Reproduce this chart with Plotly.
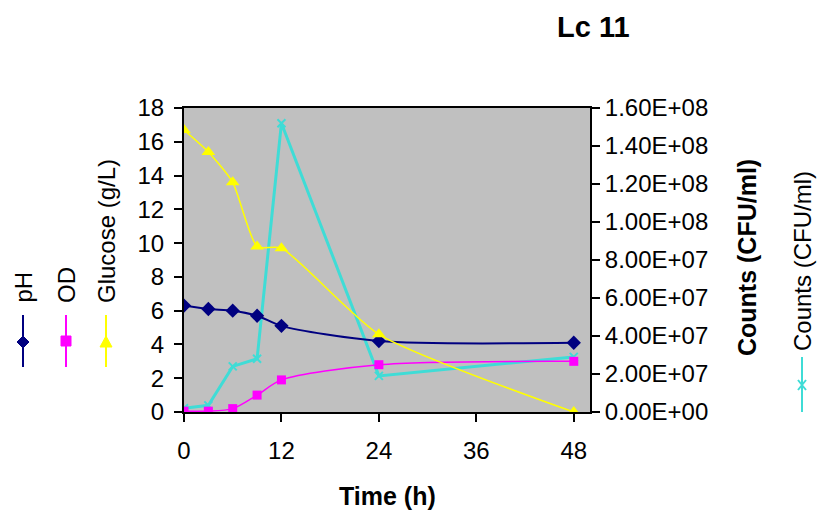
import plotly.graph_objects as go

# Sampling times (h)
time_h = [0, 3, 6, 9, 12, 24, 48]

# Measured series
ph = [6.3, 6.1, 6.0, 5.7, 5.1, 4.2, 4.1]
od = [0.05, 0.05, 0.2, 1.0, 1.9, 2.8, 3.0]
glucose = [16.7, 15.4, 13.6, 9.8, 9.7, 4.6, 0.0]
counts = [2.0e6, 3.5e6, 2.4e7, 2.8e7, 1.52e8, 1.9e7, 2.9e7]

# Axis ticks
x_ticks = [0, 12, 24, 36, 48]
left_ticks = [0, 2, 4, 6, 8, 10, 12, 14, 16, 18]
right_ticks = [0, 2e7, 4e7, 6e7, 8e7, 1e8, 1.2e8, 1.4e8, 1.6e8]
right_tick_text = ["0.00E+00", "2.00E+07", "4.00E+07", "6.00E+07", "8.00E+07",
                   "1.00E+08", "1.20E+08", "1.40E+08", "1.60E+08"]

NAVY = "#000080"
MAGENTA = "#FF00FF"
YELLOW = "#FFFF00"
CYAN = "#3FDCD6"
FONT = "Liberation Sans, Arial, sans-serif"

W, H = 819, 513
ML, MR, MT, MB = 184, 229, 108, 101
PW, PH_ = W - ML - MR, H - MT - MB


def px(x):
    return (x - ML) / PW


def py(y):
    return (H - MB - y) / PH_


fig = go.Figure()

# Counts sits on the primary (right-hand) axis so it is drawn underneath
fig.add_trace(go.Scatter(
    x=time_h, y=counts, name="Counts (CFU/ml)", yaxis="y",
    mode="lines+markers", line=dict(color=CYAN, width=3),
    marker=dict(symbol="x-thin-open", size=8, line=dict(color=CYAN, width=2)),
))
fig.add_trace(go.Scatter(
    x=time_h, y=ph, name="pH", yaxis="y2",
    mode="lines+markers", line=dict(color=NAVY, width=2, shape="spline", smoothing=0.8),
    marker=dict(symbol="diamond", size=11, color=NAVY),
))
fig.add_trace(go.Scatter(
    x=time_h, y=od, name="OD", yaxis="y2",
    mode="lines+markers", line=dict(color=MAGENTA, width=1.5, shape="spline", smoothing=0.8),
    marker=dict(symbol="square", size=9, color=MAGENTA),
))
fig.add_trace(go.Scatter(
    x=time_h, y=glucose, name="Glucose (g/L)", yaxis="y2",
    mode="lines+markers", line=dict(color=YELLOW, width=1.5, shape="spline", smoothing=0.6),
    marker=dict(symbol="triangle-up", size=12, color=YELLOW),
))

tick_font = dict(family=FONT, size=24, color="black")

# Legend: vertical entries with rotated labels
shapes = []
annotations = []
legend_items = [
    ("pH", NAVY, 23, 315, 367, 342, "M0,6 L6,0 L0,-6 L-6,0 Z", 305),
    ("OD", MAGENTA, 66, 315, 367, 341, "M-5,-5 H5 V5 H-5 Z", 305),
    ("Glucose (g/L)", YELLOW, 106, 315, 367, 342, "M-6,-5 L6,-5 L0,6 Z", 305),
    ("Counts (CFU/ml)", CYAN, 802, 357, 412, 385, "M-4,-5 L4,5 M-4,5 L4,-5", 353),
]
for label, color, lx, y0, y1, my, path, text_bottom in legend_items:
    shapes.append(dict(type="line", xref="paper", yref="paper",
                       x0=px(lx), x1=px(lx), y0=py(y0), y1=py(y1),
                       line=dict(color=color, width=2)))
    closed = path.endswith("Z")
    shapes.append(dict(type="path", xref="paper", yref="paper",
                       xsizemode="pixel", ysizemode="pixel",
                       xanchor=px(lx), yanchor=py(my), path=path,
                       fillcolor=color if closed else None,
                       line=dict(color=color, width=1 if closed else 2)))
    annotations.append(dict(text=label, xref="paper", yref="paper",
                            x=px(lx), y=py(text_bottom), xanchor="center", yanchor="bottom",
                            textangle=-90, showarrow=False,
                            font=dict(family=FONT, size=24, color="black")))

# Chart and axis titles
annotations.append(dict(text="<b>Lc 11</b>", xref="paper", yref="paper",
                        x=px(593), y=py(27), xanchor="center", yanchor="middle",
                        showarrow=False, font=dict(family=FONT, size=29, color="black")))
annotations.append(dict(text="<b>Time (h)</b>", xref="paper", yref="paper",
                        x=px(387), y=py(496), xanchor="center", yanchor="middle",
                        showarrow=False, font=dict(family=FONT, size=25, color="black")))
annotations.append(dict(text="<b>Counts (CFU/ml)</b>", xref="paper", yref="paper",
                        x=px(747), y=py(258), xanchor="center", yanchor="middle",
                        textangle=-90, showarrow=False,
                        font=dict(family=FONT, size=25, color="black")))

fig.update_layout(
    width=W, height=H,
    margin=dict(l=ML, r=MR, t=MT, b=MB, pad=0),
    paper_bgcolor="white",
    plot_bgcolor="#C0C0C0",
    showlegend=False,
    xaxis=dict(range=[0, 50], tickvals=x_ticks, ticks="outside", ticklen=8,
               tickcolor="black", tickwidth=2, showline=True, linecolor="black",
               linewidth=2, mirror=True, showgrid=False, zeroline=False,
               tickfont=tick_font, ticklabelstandoff=8),
    yaxis=dict(range=[0, 1.6e8], side="right", tickvals=right_ticks,
               ticktext=right_tick_text, ticks="outside", ticklen=8,
               tickcolor="black", tickwidth=2, showline=True, linecolor="black",
               linewidth=2, showgrid=False, zeroline=False, tickfont=tick_font),
    yaxis2=dict(range=[0, 18], side="left", overlaying="y", tickvals=left_ticks,
                ticks="outside", ticklen=8, tickcolor="black", tickwidth=2,
                showline=True, linecolor="black", linewidth=2, showgrid=False,
                zeroline=False, tickfont=tick_font, ticklabelstandoff=5),
    shapes=shapes,
    annotations=annotations,
)

fig.write_html("out.html")
